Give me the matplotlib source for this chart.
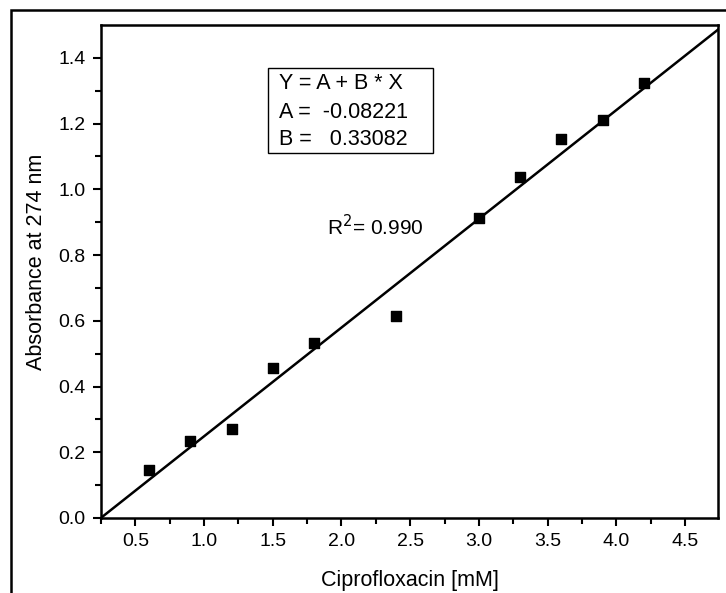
import numpy as np
import matplotlib
matplotlib.use('Agg')
import matplotlib.pyplot as plt
from matplotlib.patches import Rectangle

plt.rcParams['font.family'] = ['Liberation Sans', 'DejaVu Sans']

# data
conc = [0.6, 0.9, 1.2, 1.5, 1.8, 2.4, 3.0, 3.3, 3.6, 3.9, 4.2]
absorb = [0.146, 0.234, 0.271, 0.457, 0.533, 0.615, 0.913, 1.038, 1.153, 1.211, 1.324]
A = -0.08221
B = 0.33082
fit_lines = ['Y = A + B * X', 'A =  -0.08221', 'B =   0.33082']

W, H = 726, 593
fig = plt.figure(figsize=(W / 100, H / 100), dpi=100)
ax = fig.add_axes([101 / W, 1 - 518 / H, (718 - 101) / W, (518 - 25) / H])

# outer frame (only left and top are visible in the original)
fig.patches.append(Rectangle((11 / W, -0.1), 1.2, 1 - 10 / H + 0.1, transform=fig.transFigure,
                             fill=False, edgecolor='black', linewidth=1.8))

xlim = (0.253, 4.74)
xl = np.array(xlim)
ax.plot(xl, A + B * xl, color='black', linewidth=1.8)
ax.scatter(conc, absorb, marker='s', s=60, color='black', zorder=3)

ax.set_xlim(*xlim)
ax.set_ylim(0, 1.5)
ax.set_xticks([0.5, 1.0, 1.5, 2.0, 2.5, 3.0, 3.5, 4.0, 4.5])
ax.set_xticks(np.arange(0.25, 4.75, 0.25), minor=True)
ax.set_yticks([0.0, 0.2, 0.4, 0.6, 0.8, 1.0, 1.2, 1.4])
ax.set_yticks(np.arange(0.1, 1.5, 0.2), minor=True)
ax.xaxis.set_major_formatter(matplotlib.ticker.FormatStrFormatter('%.1f'))
ax.yaxis.set_major_formatter(matplotlib.ticker.FormatStrFormatter('%.1f'))
ax.tick_params(which='major', direction='out', length=6, width=1.5, labelsize=14, pad=5)
ax.tick_params(which='minor', direction='out', length=4, width=1.5)
for s in ax.spines.values():
    s.set_linewidth(1.8)

ax.set_xlabel('Ciprofloxacin [mM]', fontsize=15.5)
ax.set_ylabel('Absorbance at 274 nm', fontsize=15.5)
ax.xaxis.set_label_coords(0.501, -0.126)
ax.yaxis.set_label_coords(-0.104, 0.519)
ax.xaxis.label.set_va('center')
ax.yaxis.label.set_va('center')

# fit parameter box
ax.add_patch(Rectangle((0.2707, 0.7404), 0.2674, 0.1724, transform=ax.transAxes,
                       fill=False, edgecolor='black', linewidth=1, zorder=4))
for yy, line in zip([0.882, 0.8235, 0.768], fit_lines):
    ax.text(0.2885, yy, line, transform=ax.transAxes, fontsize=15.5, va='center', ha='left')
ax.text(0.366, 0.592, r'R$^2$= 0.990', transform=ax.transAxes, fontsize=15, va='center', ha='left')

fig.savefig('out.png', dpi=100)
